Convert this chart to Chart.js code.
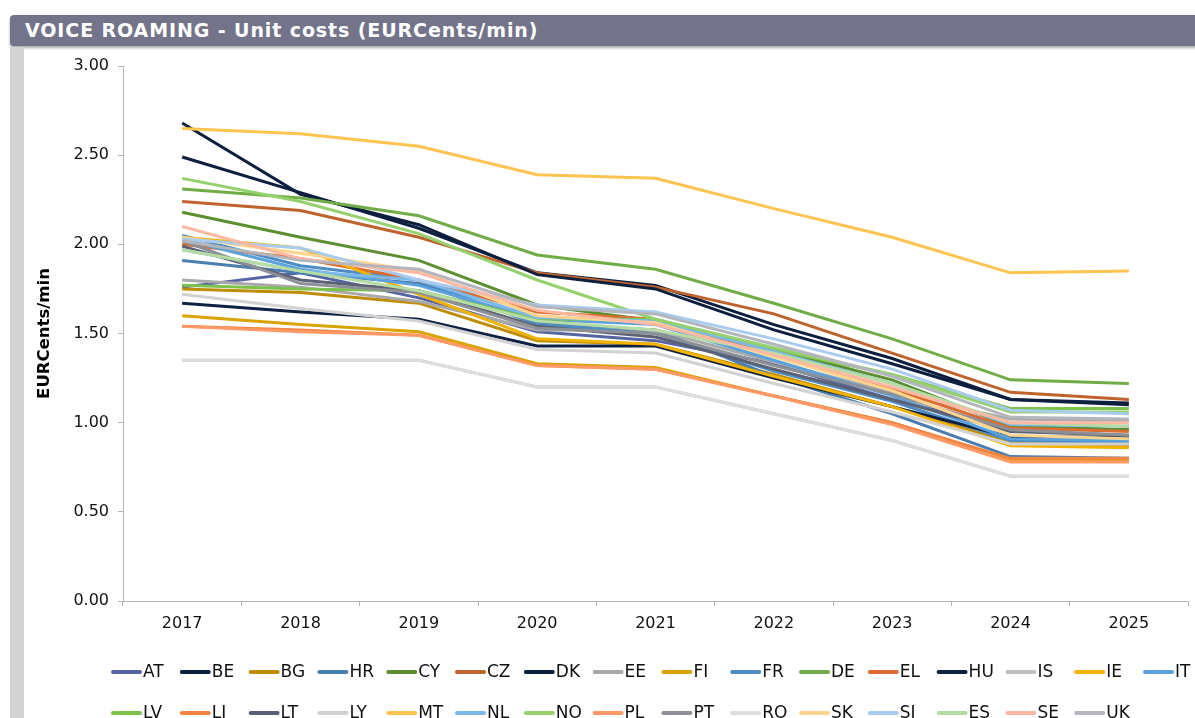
<!DOCTYPE html>
<html>
<head>
<meta charset="utf-8">
<title>Voice roaming unit costs</title>
<script src="https://cdn.jsdelivr.net/npm/chart.js@4.4.1/dist/chart.umd.min.js"></script>
<style>
  body { margin: 0; background: #fff; width: 1195px; height: 718px; overflow: hidden; position: relative; font-family: "DejaVu Sans", Verdana, sans-serif; }
  #header { position: absolute; left: 10px; top: 15px; width: 1200px; height: 31px; background: #737389; border-radius: 4px; box-shadow: 0 2px 3px rgba(0,0,0,0.35); }
  #header span { position: absolute; left: 15px; top: 4px; color: #fff; font-weight: bold; font-size: 19px; letter-spacing: 0.9px; white-space: nowrap; }
  #strip { position: absolute; left: 10px; top: 47px; width: 14px; height: 680px; background: #d3d3d3; }
  #wrap { position: absolute; left: 0; top: 0; width: 1195px; height: 718px; }
</style>
</head>
<body>
<div id="header"><span>VOICE ROAMING - Unit costs (EURCents/min)</span></div>
<div id="strip"></div>
<div id="wrap"><canvas id="myChart"></canvas></div>
<script>
// years on the x axis
const years = ['2017', '2018', '2019', '2020', '2021', '2022', '2023', '2024', '2025'];

// y axis ticks
const yTicks = [0, 0.5, 1, 1.5, 2, 2.5, 3];

// country codes, same order as the legend
const countries = ['AT', 'BE', 'BG', 'HR', 'CY', 'CZ', 'DK', 'EE', 'FI', 'FR', 'DE', 'EL', 'HU', 'IS', 'IE', 'IT',
                   'LV', 'LI', 'LT', 'LY', 'MT', 'NL', 'NO', 'PL', 'PT', 'RO', 'SK', 'SI', 'ES', 'SE', 'UK'];

const colors = ['#5664a4', '#0c1f3e', '#bf8c06', '#4a7db0', '#5b8f30', '#c0622b', '#0c1f3e', '#a9a9a9', '#d9a300', '#4d8cc6',
                '#70ad47', '#dc6d31', '#0d2142', '#c0c0c0', '#f2b200', '#5aa2dd',
                '#7cc24c', '#f28544', '#5c6272', '#d2d2d2', '#ffc34f', '#7db9e8', '#95d16d', '#ff9a66', '#8d9197', '#dedede',
                '#ffd48e', '#a9cbee', '#b5dca2', '#ffb9a2', '#b3b6bd'];

// unit costs per country (EURCents/min), 2017..2025
const AT = [1.76, 1.84, 1.70, 1.51, 1.46, 1.33, 1.13, 0.97, 0.96];
const BE = [2.49, 2.29, 2.09, 1.84, 1.77, 1.55, 1.36, 1.13, 1.11];
const BG = [1.75, 1.73, 1.67, 1.46, 1.44, 1.27, 1.09, 0.89, 0.87];
const HR = [1.91, 1.84, 1.78, 1.56, 1.52, 1.26, 1.05, 0.81, 0.80];
const CY = [2.18, 2.04, 1.91, 1.66, 1.57, 1.41, 1.24, 0.98, 0.96];
const CZ = [2.24, 2.19, 2.04, 1.84, 1.76, 1.61, 1.39, 1.17, 1.13];
const DK = [2.68, 2.28, 2.11, 1.83, 1.75, 1.52, 1.33, 1.13, 1.10];
const EE = [1.80, 1.76, 1.68, 1.52, 1.52, 1.34, 1.17, 1.02, 1.01];
const FI = [1.60, 1.55, 1.51, 1.33, 1.31, 1.15, 1.00, 0.79, 0.79];
const FR = [2.05, 1.88, 1.80, 1.55, 1.50, 1.29, 1.12, 0.90, 0.89];
const DE = [2.31, 2.26, 2.16, 1.94, 1.86, 1.67, 1.47, 1.24, 1.22];
const EL = [2.00, 1.92, 1.80, 1.62, 1.58, 1.38, 1.19, 0.97, 0.95];
const HU = [1.67, 1.62, 1.58, 1.43, 1.43, 1.25, 1.09, 0.92, 0.92];
const IS = [1.35, 1.35, 1.35, 1.20, 1.20, 1.05, 0.90, 0.70, 0.70];
const IE = [2.04, 1.98, 1.72, 1.47, 1.44, 1.26, 1.09, 0.87, 0.86];
const IT = [2.03, 1.86, 1.77, 1.58, 1.55, 1.35, 1.15, 0.91, 0.90];
const LV = [1.77, 1.75, 1.74, 1.58, 1.58, 1.41, 1.27, 1.08, 1.08];
const LI = [1.54, 1.52, 1.49, 1.32, 1.30, 1.15, 1.00, 0.80, 0.80];
const LT = [1.99, 1.80, 1.74, 1.54, 1.48, 1.30, 1.13, 0.95, 0.93];
const LY = [1.72, 1.64, 1.57, 1.41, 1.39, 1.22, 1.06, 0.88, 0.88];
const MT = [2.65, 2.62, 2.55, 2.39, 2.37, 2.20, 2.04, 1.84, 1.85];
const NL = [1.97, 1.85, 1.80, 1.59, 1.57, 1.40, 1.22, 0.99, 0.98];
const NO = [2.37, 2.24, 2.06, 1.80, 1.58, 1.42, 1.27, 1.06, 1.06];
const PL = [1.54, 1.51, 1.49, 1.32, 1.30, 1.15, 0.99, 0.78, 0.78];
const PT = [2.02, 1.78, 1.73, 1.53, 1.50, 1.32, 1.16, 0.96, 0.93];
const RO = [1.35, 1.35, 1.35, 1.20, 1.20, 1.05, 0.90, 0.70, 0.70];
const SK = [2.04, 1.95, 1.85, 1.60, 1.56, 1.37, 1.18, 0.93, 0.91];
const SI = [2.03, 1.98, 1.80, 1.66, 1.62, 1.47, 1.30, 1.07, 1.05];
const ES = [1.97, 1.85, 1.74, 1.57, 1.52, 1.39, 1.22, 1.00, 0.98];
const SE = [2.10, 1.92, 1.84, 1.63, 1.55, 1.38, 1.20, 1.00, 1.00];
const UK = [2.02, 1.91, 1.86, 1.65, 1.61, 1.44, 1.26, 1.03, 1.02];

const values = [AT, BE, BG, HR, CY, CZ, DK, EE, FI, FR, DE, EL, HU, IS, IE, IT,
                LV, LI, LT, LY, MT, NL, NO, PL, PT, RO, SK, SI, ES, SE, UK];

const FONT = '"DejaVu Sans", Verdana, sans-serif';
const AXIS = '#b5b5b5';

// later series sit on top, like in the spreadsheet
const datasets = countries.map((c, i) => ({
  label: c,
  data: values[i],
  borderColor: colors[i],
  backgroundColor: colors[i],
  borderWidth: 3,
  pointRadius: 0,
  tension: 0,
  order: countries.length - i
}));

// legend drawn in fixed slots, two rows
const slotLegend = {
  id: 'slotLegend',
  afterDraw(chart) {
    const ctx = chart.ctx;
    ctx.save();
    ctx.font = '17px ' + FONT;
    ctx.textBaseline = 'middle';
    ctx.lineCap = 'round';
    chart.data.datasets.forEach((ds, i) => {
      const row = i < 16 ? 0 : 1;
      const col = row === 0 ? i : i - 16;
      const x = 113 + col * 68.8;
      const y = 672 + row * 41;
      ctx.strokeStyle = ds.borderColor;
      ctx.lineWidth = 4;
      ctx.beginPath();
      ctx.moveTo(x, y);
      ctx.lineTo(x + 27, y);
      ctx.stroke();
      ctx.fillStyle = '#111';
      ctx.fillText(ds.label, x + 30, y + 1);
    });
    ctx.restore();
  }
};

const context = document.getElementById('myChart').getContext('2d');

const myChart = new Chart(context, {
  type: 'line',
  data: { labels: years, datasets: datasets },
  options: {
    responsive: true,
    maintainAspectRatio: false,
    animation: false,
    layout: { padding: { left: 24, top: 66, right: 7, bottom: 77 } },
    plugins: { legend: { display: false }, tooltip: { enabled: false } },
    scales: {
      x: {
        offset: true,
        grid: { display: true, drawOnChartArea: false, offset: true, color: AXIS, tickLength: 5 },
        border: { color: AXIS, width: 1 },
        ticks: { color: '#111', font: { family: FONT, size: 16 }, padding: 8, maxRotation: 0 },
        afterFit(scale) { scale.height = 40; }
      },
      y: {
        min: 0,
        max: 3,
        afterBuildTicks(scale) { scale.ticks = yTicks.map(v => ({ value: v })); },
        grid: { display: true, drawOnChartArea: false, color: AXIS, tickLength: 5 },
        border: { color: AXIS, width: 1 },
        ticks: {
          color: '#111',
          font: { family: FONT, size: 16 },
          padding: 9,
          callback: v => v.toFixed(2)
        },
        title: {
          display: true,
          text: 'EURCents/min',
          color: '#000',
          font: { family: FONT, size: 16.5, weight: 'bold' },
          padding: { top: 11, bottom: 0 }
        },
        afterFit(scale) { scale.width = 99; }
      }
    }
  },
  plugins: [slotLegend]
});
</script>
</body>
</html>
